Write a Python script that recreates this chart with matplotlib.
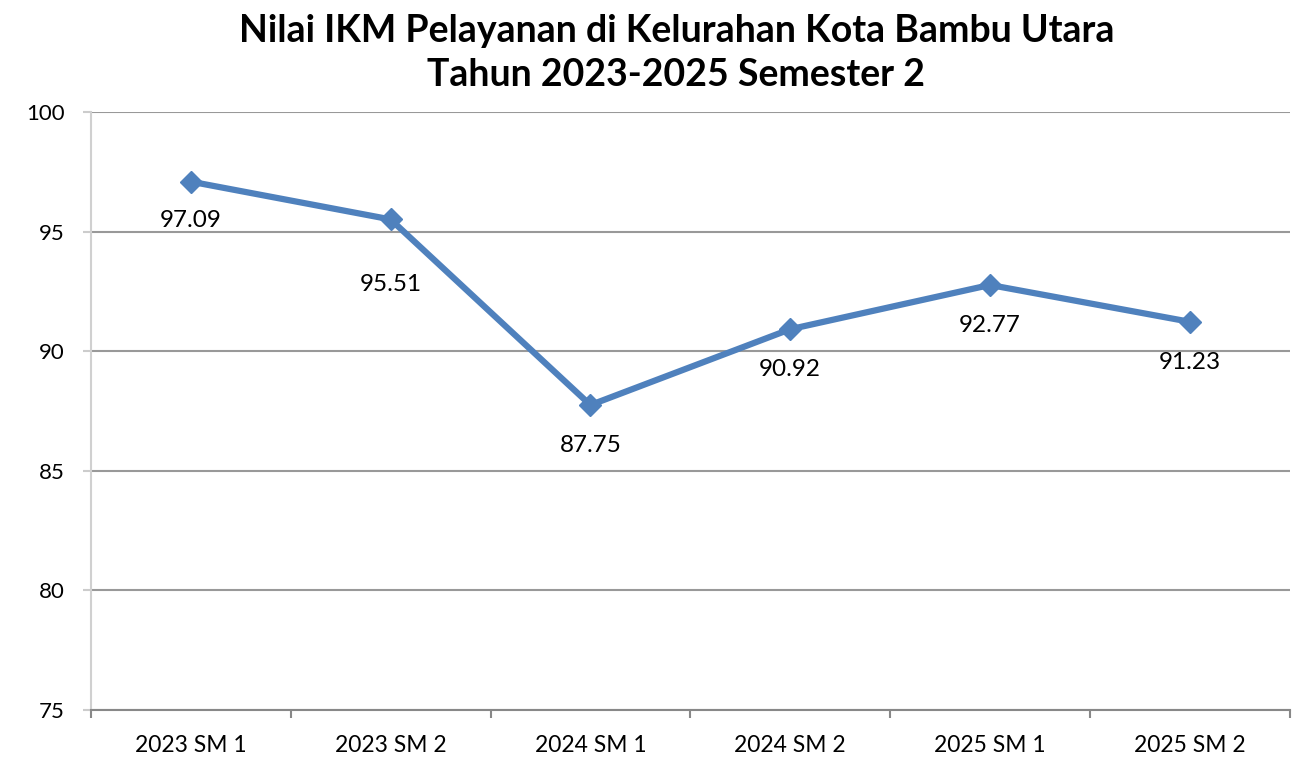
import numpy as np
import matplotlib.pyplot as plt

plt.rcParams['font.family'] = ['Lato', 'DejaVu Sans']

# data
periode = ['2023 SM 1', '2023 SM 2', '2024 SM 1', '2024 SM 2', '2025 SM 1', '2025 SM 2']
nilai_ikm = [97.09, 95.51, 87.75, 90.92, 92.77, 91.23]
y_ticks = [75, 80, 85, 90, 95, 100]

# jarak label di bawah titik (points)
label_offset = [-28, -47, -29, -29, -29, -29]

fig = plt.figure(figsize=(13.16, 7.78), dpi=100)
ax = fig.add_axes([0.0691, 0.0874, 0.9109, 0.7686])

x = np.arange(len(periode))
ax.plot(x, nilai_ikm, color='#4F81BD', linewidth=4.5, marker='D', markersize=11, zorder=3)

for xi, v, off in zip(x, nilai_ikm, label_offset):
    ax.annotate('%.2f' % v, (xi, v), xytext=(0, off), textcoords='offset points',
                ha='center', va='center', fontsize=17.5, color='black')

ax.set_xlim(-0.5, len(periode) - 0.5)
ax.set_ylim(75, 100)
ax.set_yticks(y_ticks)
ax.set_yticklabels([str(t) for t in y_ticks], fontsize=16)
ax.set_xticks(x)
ax.set_xticklabels(periode, fontsize=16.5)
ax.tick_params(axis='x', length=0, pad=18)
ax.set_xticks(np.arange(-0.5, len(periode)), minor=True)
ax.tick_params(axis='x', which='minor', length=6, width=1.5, color='#888888', direction='out')
ax.tick_params(axis='y', length=6, width=1.5, color='#cccccc', pad=13)

ax.grid(axis='y', color='#999999', linewidth=1.5)
ax.set_axisbelow(True)
for s in ['top', 'right']:
    ax.spines[s].set_visible(False)
ax.spines['left'].set_color('#d0d0d0')
ax.spines['left'].set_linewidth(1.5)
ax.spines['bottom'].set_color('#888888')
ax.spines['bottom'].set_linewidth(1.5)

fig.text(0.514, 0.982, 'Nilai IKM Pelayanan di Kelurahan Kota Bambu Utara\nTahun 2023-2025 Semester 2',
         ha='center', va='top', fontsize=27, fontweight='bold', linespacing=1.35)

fig.savefig('out.png', dpi=100)
